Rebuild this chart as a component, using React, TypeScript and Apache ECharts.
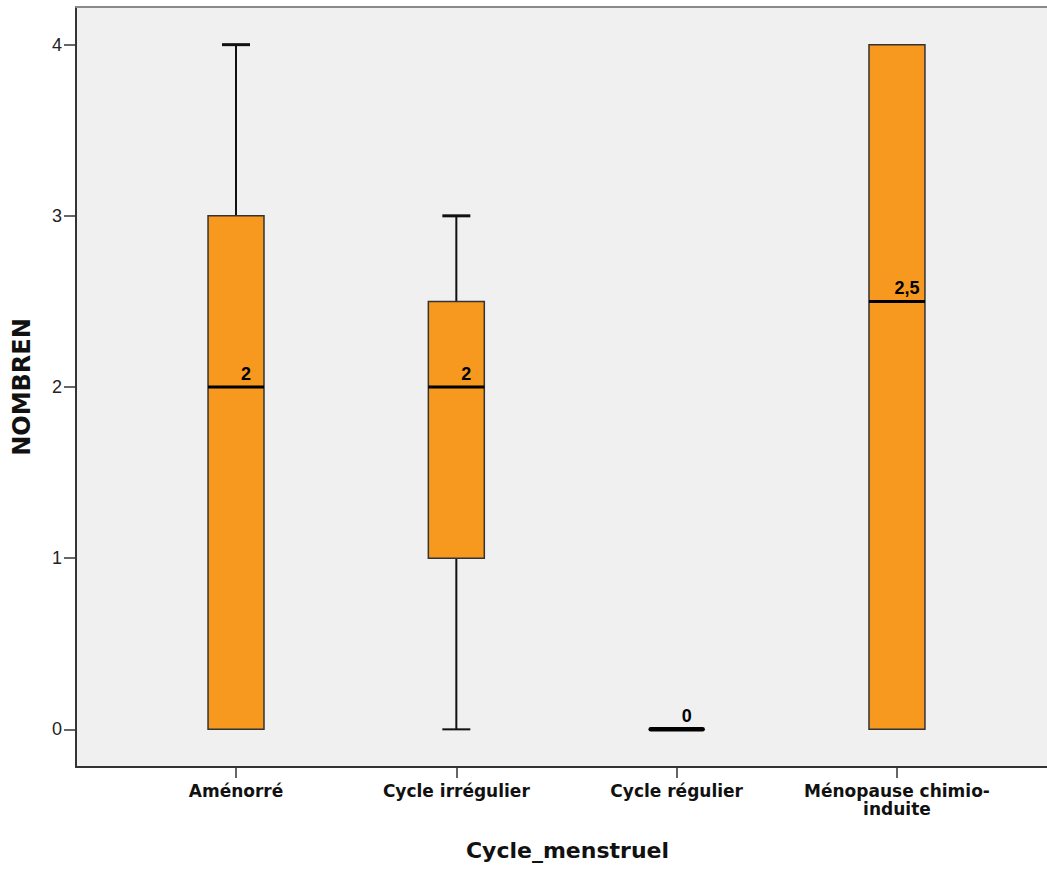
import React, { useEffect, useRef } from "react";
import * as echarts from "echarts";

const categories = ["Aménorré", "Cycle irrégulier", "Cycle régulier", "Ménopause chimio-\ninduite"];
const mins = [0, 0, 0, 0];
const q1s = [0, 1, 0, 0];
const medians = [2, 2, 0, 2.5];
const q3s = [3, 2.5, 0, 4];
const maxs = [4, 3, 0, 4];
const yTicks = [0, 1, 2, 3, 4];
const xTicks = [0, 1, 2, 3];

const BOX_COLOR = "#F7991F";

export default function App() {
  const ref = useRef<HTMLDivElement>(null);
  useEffect(() => {
    const chart = echarts.init(ref.current!, null, { renderer: "svg" });
    const data = categories.map((_, i) => [i, mins[i], q1s[i], medians[i], q3s[i], maxs[i]]);
    const boxFrac = 0.254;
    const xMin = -0.7263;
    const xMax = 3.681;
    const option: any = {
      animation: false,
      backgroundColor: "#ffffff",
      grid: {
        left: 76,
        top: 7,
        right: 0,
        bottom: 103,
        show: true,
        backgroundColor: "#F0F0F0",
        borderWidth: 0,
      },
      xAxis: [
        {
          type: "value",
          min: xMin,
          max: xMax,
          name: "Cycle_menstruel",
          nameLocation: "middle",
          nameGap: 72,
          nameTextStyle: {
            fontFamily: "DejaVu Sans",
            fontWeight: "bold",
            fontSize: 22,
            color: "#111",
            padding: [0, 0, 0, 12],
          },
          splitLine: { show: false },
          axisLine: { show: true, onZero: false, lineStyle: { color: "#333", width: 2 } },
          axisTick: { show: true, customValues: xTicks, length: 11, lineStyle: { color: "#333", width: 1.5 } },
          axisLabel: {
            customValues: xTicks,
            formatter: (v: number) => categories[Math.round(v)] ?? "",
            fontFamily: "DejaVu Sans",
            fontWeight: "bold",
            fontSize: 17,
            lineHeight: 18,
            color: "#111",
            margin: 15,
          },
        },
        {
          type: "value",
          position: "top",
          min: xMin,
          max: xMax,
          splitLine: { show: false },
          axisLine: { show: true, onZero: false, lineStyle: { color: "#8a8a8a", width: 2 } },
          axisTick: { show: false },
          axisLabel: { show: false },
        },
      ],
      yAxis: {
        type: "value",
        min: -0.22,
        max: 4.22,
        name: "NOMBREN",
        nameLocation: "middle",
        nameRotate: 90,
        nameGap: 42,
        nameTextStyle: { fontFamily: "DejaVu Sans", fontWeight: "bold", fontSize: 24, color: "#111" },
        splitLine: { show: false },
        axisLine: { show: true, onZero: false, lineStyle: { color: "#333", width: 2 } },
        axisTick: { show: true, customValues: yTicks, length: 12, lineStyle: { color: "#333", width: 1.5 } },
        axisLabel: {
          customValues: yTicks,
          fontFamily: "Liberation Sans",
          fontSize: 18,
          color: "#222",
          margin: 14,
        },
      },
      series: [
        {
          type: "custom",
          xAxisIndex: 0,
          data,
          clip: false,
          renderItem: (params: any, api: any) => {
            const i = api.value(0);
            const vmin = api.value(1);
            const vq1 = api.value(2);
            const vmed = api.value(3);
            const vq3 = api.value(4);
            const vmax = api.value(5);
            const unit = api.size([1, 0])[0];
            const w = unit * boxFrac;
            const cx = api.coord([i, 0])[0];
            const yMin = api.coord([i, vmin])[1];
            const yQ1 = api.coord([i, vq1])[1];
            const yMed = api.coord([i, vmed])[1];
            const yQ3 = api.coord([i, vq3])[1];
            const yMax = api.coord([i, vmax])[1];
            const children: any[] = [];
            const whisker = { stroke: "#111", lineWidth: 2 };
            if (vmax > vq3) {
              children.push({ type: "line", shape: { x1: cx, y1: yQ3, x2: cx, y2: yMax }, style: whisker });
              children.push({ type: "line", shape: { x1: cx - w / 4, y1: yMax, x2: cx + w / 4, y2: yMax }, style: { stroke: "#111", lineWidth: 3 } });
            }
            if (vmin < vq1) {
              children.push({ type: "line", shape: { x1: cx, y1: yQ1, x2: cx, y2: yMin }, style: whisker });
              children.push({ type: "line", shape: { x1: cx - w / 4, y1: yMin, x2: cx + w / 4, y2: yMin }, style: { stroke: "#111", lineWidth: 2 } });
            }
            if (vq3 > vq1) {
              children.push({
                type: "rect",
                shape: { x: cx - w / 2, y: yQ3, width: w, height: yQ1 - yQ3 },
                style: { fill: BOX_COLOR, stroke: "#333", lineWidth: 1.5 },
              });
              children.push({ type: "line", shape: { x1: cx - w / 2, y1: yMed, x2: cx + w / 2, y2: yMed }, style: { stroke: "#000", lineWidth: 3 } });
            } else {
              children.push({
                type: "line",
                shape: { x1: cx - w / 2 + 2, y1: yMed, x2: cx + w / 2 - 2, y2: yMed },
                style: { stroke: "#000", lineWidth: 4.5, lineCap: "round" },
              });
            }
            children.push({
              type: "text",
              x: cx + 10,
              y: yMed - 4,
              style: {
                text: String(vmed).replace(".", ","),
                font: "bold 18px 'Liberation Sans'",
                fill: "#000",
                textAlign: "center",
                textVerticalAlign: "bottom",
              },
            });
            return { type: "group", children };
          },
        },
      ],
    };
    chart.setOption(option);
    return () => chart.dispose();
  }, []);
  return (
    <div
      ref={ref}
      style={{ position: "fixed", left: 0, top: 0, width: 1047, height: 870 }}
    />
  );
}
